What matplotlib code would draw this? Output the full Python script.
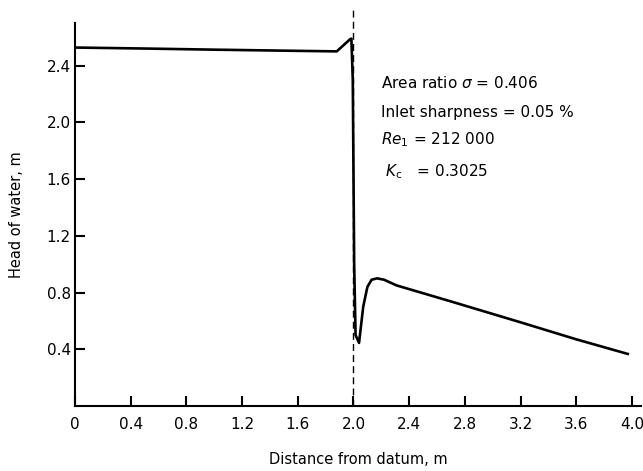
import matplotlib
matplotlib.use("Agg")
import matplotlib.pyplot as plt

# head of water along the pipe
distance = [0.0, 0.5, 1.0, 1.5, 1.88, 1.975, 1.985, 1.995, 2.005, 2.015, 2.04, 2.07,
            2.10, 2.13, 2.17, 2.22, 2.31, 2.69, 3.2, 3.6, 3.97]
head = [2.527, 2.52, 2.512, 2.505, 2.50, 2.585, 2.59, 2.3, 1.0, 0.50, 0.445, 0.70,
        0.84, 0.89, 0.90, 0.89, 0.85, 0.74, 0.59, 0.47, 0.367]

x_ticks = [0, 0.4, 0.8, 1.2, 1.6, 2.0, 2.4, 2.8, 3.2, 3.6, 4.0]
x_labels = ["0", "0.4", "0.8", "1.2", "1.6", "2.0", "2.4", "2.8", "3.2", "3.6", "4.0"]
y_ticks = [0.4, 0.8, 1.2, 1.6, 2.0, 2.4]
y_labels = ["0.4", "0.8", "1.2", "1.6", "2.0", "2.4"]

notes = ["Area ratio $\\sigma$ = 0.406",
         "Inlet sharpness = 0.05 %",
         "$Re_{\\mathrm{1}}$ = 212 000",
         " $K_{\\mathrm{c}}$   = 0.3025"]

plt.rcParams['font.family'] = ['DejaVu Sans']
plt.rcParams['mathtext.fontset'] = 'dejavusans'

fig = plt.figure(figsize=(6.43, 4.71), dpi=100)
ax = fig.add_axes([75 / 643, 65 / 471, 566 / 643, 383 / 471])

ax.plot(distance, head, color='black', lw=1.9, solid_joinstyle='round')
ax.plot([2.0, 2.0], [0, 2.81], color='black', lw=1.0, dashes=(5, 3), clip_on=False)

ax.set_xlim(0, 4.065)
ax.set_ylim(0, 2.70)
ax.set_xticks(x_ticks)
ax.set_xticklabels(x_labels)
ax.set_yticks(y_ticks)
ax.set_yticklabels(y_labels)

for side in ['top', 'right']:
    ax.spines[side].set_visible(False)
for side in ['left', 'bottom']:
    ax.spines[side].set_linewidth(1.5)

ax.tick_params(direction='in', length=7, width=1.5, labelsize=11)
ax.tick_params(axis='x', pad=8)
ax.tick_params(axis='y', pad=3)

ax.set_xlabel("Distance from datum, m", fontsize=10.5, labelpad=14)
ax.set_ylabel("Head of water, m", fontsize=10.5, labelpad=16)

y_pos = [2.28, 2.07, 1.88, 1.65]
for txt, yv in zip(notes, y_pos):
    ax.text(2.2, yv, txt, fontsize=11, va='center', ha='left')

fig.savefig("out.png", dpi=100)
